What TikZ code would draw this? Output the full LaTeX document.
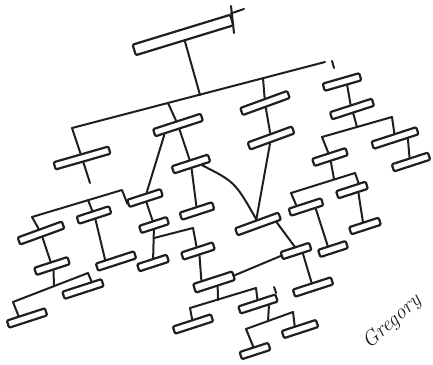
\documentclass[tikz,border=0pt]{standalone}
\usetikzlibrary{calc}
\begin{document}
\begin{tikzpicture}[x=1pt,y=-1pt, line cap=round, line join=round,
  box/.style={draw=black!88, fill=white, line width=2.2pt, rectangle, rounded corners=1.2pt,
              minimum height=7.5pt, inner sep=0pt, rotate=#1},
  box/.default=18,
  conn/.style={draw=black!88, line width=2pt}]
\useasboundingbox (0,0) rectangle (433,364);
\fill[white] (0,0) rectangle (433,364);

% ---------- boxes ----------
\node[box=17, minimum width=102pt, minimum height=11pt] (T) at (183,35) {};
\node[box=16, minimum width=57pt] (L1) at (82,158) {};
\node[box, minimum width=50pt] (B2) at (178,125) {};
\node[box=20, minimum width=50pt] (B3) at (265,103) {};
\node[box=20, minimum width=47pt] (B3b) at (271,138) {};
\node[box=16, minimum width=38pt] (R1) at (342,82) {};
\node[box, minimum width=44pt] (R2) at (352,109) {};
\node[box, minimum width=47pt] (R3) at (395,138) {};
\node[box, minimum width=38pt] (R4) at (411,162) {};
\node[box, minimum width=35pt] (R5) at (330,157) {};
\node[box, minimum width=31pt] (R6) at (352,190) {};
\node[box, minimum width=34pt] (S1) at (306,207) {};
\node[box, minimum width=31pt] (R7) at (365,226) {};
\node[box, minimum width=29pt] (R8) at (333,249) {};
\node[box=20, minimum width=46pt] (C) at (258,224) {};
\node[box, minimum width=30pt] (D) at (296,251) {};
\node[box, minimum width=40pt] (F) at (313,287) {};
\node[box, minimum width=38pt] (B2b) at (191,164) {};
\node[box, minimum width=34pt] (H) at (197,211) {};
\node[box, minimum width=33pt] (G) at (198,251) {};
\node[box, minimum width=41pt, minimum height=9pt] (E) at (214,282) {};
\node[box, minimum width=40pt] (J) at (193,324) {};
\node[box, minimum width=39pt] (M) at (258,304) {};
\node[box, minimum width=30pt] (N) at (255,351) {};
\node[box, minimum width=36pt] (P) at (300,329) {};
\node[box, minimum width=35pt] (K1) at (145,198) {};
\node[box, minimum width=29pt] (K2) at (154,225) {};
\node[box, minimum width=31pt] (K3) at (153,263) {};
\node[box=20, minimum width=47pt] (L2) at (41,233) {};
\node[box, minimum width=34pt] (L3) at (94,215) {};
\node[box, minimum width=40pt] (L4) at (116,261) {};
\node[box, minimum width=35pt] (L2b) at (52,266) {};
\node[box, minimum width=40pt] (L5) at (27,318) {};
\node[box, minimum width=41pt] (L6) at (83,289) {};

% ---------- junction points ----------
\coordinate (mbL) at (72,128);
\coordinate (mbR) at (325,62);
\coordinate (mb1) at (200,95);
\coordinate (mb2) at (168,103);
\coordinate (mb3) at (263,78);
\coordinate (mbt1) at (332,61);
\coordinate (mbt2) at (334,68);
\coordinate (tA) at (244,9);
\coordinate (tB) at (231,6);
\coordinate (tC) at (234,33);
\coordinate (l1e) at (90,183);
\coordinate (lbL) at (32,217);
\coordinate (lbR) at (122,190);
\coordinate (lb3) at (88,200);
\coordinate (l2j) at (54,286);
\coordinate (b2L) at (13,302);
\coordinate (b2R) at (88,273);
\coordinate (kj) at (154,238);
\coordinate (kg) at (193,228);
\coordinate (e3) at (218,300);
\coordinate (b3L) at (190,308);
\coordinate (b3R) at (256,288);
\coordinate (m4) at (268,321);
\coordinate (b4L) at (246,329);
\coordinate (b4R) at (293,312);
\coordinate (rb) at (357,127);
\coordinate (rbL) at (322,137);
\coordinate (rbR) at (392,117);
\coordinate (r5b) at (334,179);
\coordinate (s1b) at (291,193);
\coordinate (r6b) at (355,173);

% ---------- connectors ----------
\draw[conn] (T.south) -- (mb1);
\draw[conn] (mbL) -- (mbR);
\draw[conn] (T.north east) -- (tA);
\draw[conn] (tB) -- (tC);
\draw[conn] (mbt1) -- (mbt2);
\draw[conn] (mbL) -- (L1);
\draw[conn] (L1) -- (l1e);
\draw[conn] (mb2) -- (B2);
\draw[conn] (mb3) -- (B3);
\draw[conn] (B3) -- (B3b);
\draw[conn] (B3b) -- (C.north);
\draw[conn] (B2b.-25) .. controls (235,182) .. (C.north);
\draw[conn] (B2.-163) -- (K1);
\draw[conn] (B2) -- (B2b);
\draw[conn] (B2b) -- (H);
\draw[conn] (C.-15) -- (D.north);
\draw[conn] (D.west) -- (E.east);
\draw[conn] (D.-40) -- (F.north);
\draw[conn] (G.south) -- (E.154);
\draw[conn] (K1) -- (K2);
\draw[conn] (K2) -- (K3);
\draw[conn] (kj) -- (kg) -- (G.north);
\draw[conn] (lbL) -- (lbR) -- (K1.west);
\draw[conn] (lbL) -- (L2);
\draw[conn] (L2) -- (L2b);
\draw[conn] (lb3) -- (L3);
\draw[conn] (L3.south) -- (L4.154);
\draw[conn] (L2b.south) -- (l2j);
\draw[conn] (b2L) -- (b2R);
\draw[conn] (b2L) -- (L5.147);
\draw[conn] (b2R) -- (L6.25);
\draw[conn] (E.-70) -- (e3);
\draw[conn] (b3L) -- (b3R);
\draw[conn] (b3L) -- (J);
\draw[conn] (b3R) -- (M);
\draw[conn] (M.-26) -- (m4);
\draw[conn] (b4L) -- (b4R);
\draw[conn] (b4L) -- (N);
\draw[conn] (b4R) -- (P.130);
\draw[conn] (M.north east) -- ++(-2,-6);
\draw[conn] (R1.-50) -- (R2.north);
\draw[conn] (R2) -- (rb);
\draw[conn] (rbL) -- (rbR);
\draw[conn] (rbL) -- (R5);
\draw[conn] (rbR) -- (R3);
\draw[conn] (R3.-22) -- (R4.north);
\draw[conn] (R5) -- (r5b);
\draw[conn] (s1b) -- (r6b);
\draw[conn] (s1b) -- (S1.151);
\draw[conn] (r6b) -- (R6.30);
\draw[conn] (S1.-29) -- (R8.130);
\draw[conn] (R6.-43) -- (R7.98);

% ---------- signature ----------
\node[rotate=42, inner sep=0pt, font=\fontsize{21}{21}\selectfont\itshape, text=black!88] (sig) at (392,322) {Gregory};
\end{tikzpicture}
\end{document}
